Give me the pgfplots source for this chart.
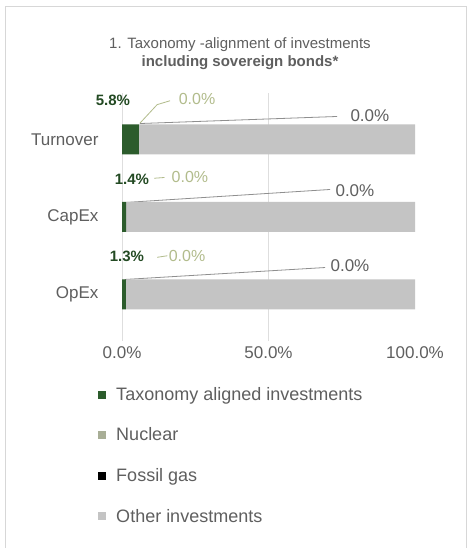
\documentclass[border=0pt]{standalone}
\usepackage{pgfplots}
\pgfplotsset{compat=1.18}
\usepackage{fontspec}
\setmainfont{Liberation Sans}

\definecolor{taxgreen}{RGB}{44,92,44}
\definecolor{nucgreen}{RGB}{168,174,150}
\definecolor{nuctext}{RGB}{178,188,140}
\definecolor{othergray}{RGB}{196,196,196}
\definecolor{textgray}{RGB}{95,95,95}
\definecolor{framegray}{RGB}{215,215,215}

\begin{document}
\begin{tikzpicture}
\path[use as bounding box] (0,0) rectangle (471pt,548pt);
\fill[white] (0,0) rectangle (471pt,548pt);
\draw[framegray, line width=1pt] (5pt,-1pt) -- (5pt,541pt) -- (466pt,541pt) -- (466pt,-1pt);

% title
\node[align=center, text=textgray, font=\fontsize{15}{18}\selectfont] at (240pt,494pt)
  {1. Taxonomy -alignment of investments\\\textbf{including sovereign bonds*}};

\begin{axis}[
  at={(122pt,207pt)}, anchor=south west,
  scale only axis, width=293pt, height=248pt,
  xbar stacked, bar width=30pt,
  xmin=0, xmax=100, ymin=-0.6, ymax=2.6,
  axis line style={draw=none},
  major tick length=0pt,
  ytick={0,1,2}, yticklabels={OpEx,CapEx,Turnover},
  xtick={0,50,100}, xticklabels={0.0\%,50.0\%,100.0\%},
  extra x ticks={0,50}, extra x tick labels={},
  extra x tick style={grid=major, major grid style={black!13, line width=1pt}},
  tick label style={text=textgray, font=\fontsize{17}{18}\selectfont},
  yticklabel style={xshift=-20pt},
  xticklabel style={yshift=-2pt},
  clip=false,
  legend style={at={(-0.092,-0.17)}, anchor=north west, draw=none, fill=none,
    font=\fontsize{18}{20}\selectfont, text=textgray, row sep=22pt,
    legend cell align=left},
  legend image code/.code={\fill[#1] (0pt,-4pt) rectangle (8pt,4pt); \path (16pt,0pt);},
]
\addplot[fill=taxgreen, draw=none] coordinates {(5.8,2) (1.4,1) (1.3,0)};
\addlegendentry{Taxonomy aligned investments}
\addplot[fill=nucgreen, draw=none] coordinates {(0,2) (0,1) (0,0)};
\addlegendentry{Nuclear}
\addplot[fill=black, draw=none] coordinates {(0,2) (0,1) (0,0)};
\addlegendentry{Fossil gas}
\addplot[fill=othergray, draw=none] coordinates {(94.2,2) (98.6,1) (98.7,0)};
\addlegendentry{Other investments}

% leader lines
\draw[textgray!70, line width=0.8pt] (axis cs:6.1,2.206) -- (axis cs:73.4,2.297);
\draw[textgray!70, line width=0.8pt] (axis cs:1.0,1.187) -- (axis cs:71,1.355);
\draw[textgray!70, line width=0.8pt] (axis cs:1.0,0.194) -- (axis cs:69.3,0.348);
\draw[nuctext, line width=0.8pt] (axis cs:6.1,2.21) -- (axis cs:12,2.45) -- (axis cs:16.4,2.5);
\draw[nuctext, line width=0.8pt] (axis cs:11,1.5) -- (axis cs:14.5,1.51);
\draw[nuctext, line width=0.8pt] (axis cs:12,0.48) -- (axis cs:15.5,0.5);

% data labels
\node[text=taxgreen!80!black, font=\bfseries\fontsize{15}{18}\selectfont] at (axis cs:-3.1,2.5) {5.8\%};
\node[text=taxgreen!80!black, font=\bfseries\fontsize{15}{18}\selectfont] at (axis cs:3.4,1.48) {1.4\%};
\node[text=taxgreen!80!black, font=\bfseries\fontsize{15}{18}\selectfont] at (axis cs:1.7,0.49) {1.3\%};
\node[text=nuctext, font=\fontsize{16}{18}\selectfont] at (axis cs:25.6,2.52) {0.0\%};
\node[text=nuctext, font=\fontsize{16}{18}\selectfont] at (axis cs:23.2,1.51) {0.0\%};
\node[text=nuctext, font=\fontsize{16}{18}\selectfont] at (axis cs:22.2,0.50) {0.0\%};
\node[text=textgray, font=\fontsize{17}{18}\selectfont] at (axis cs:84.6,2.31) {0.0\%};
\node[text=textgray, font=\fontsize{17}{18}\selectfont] at (axis cs:79.5,1.34) {0.0\%};
\node[text=textgray, font=\fontsize{17}{18}\selectfont] at (axis cs:77.8,0.374) {0.0\%};
\end{axis}
\end{tikzpicture}
\end{document}
